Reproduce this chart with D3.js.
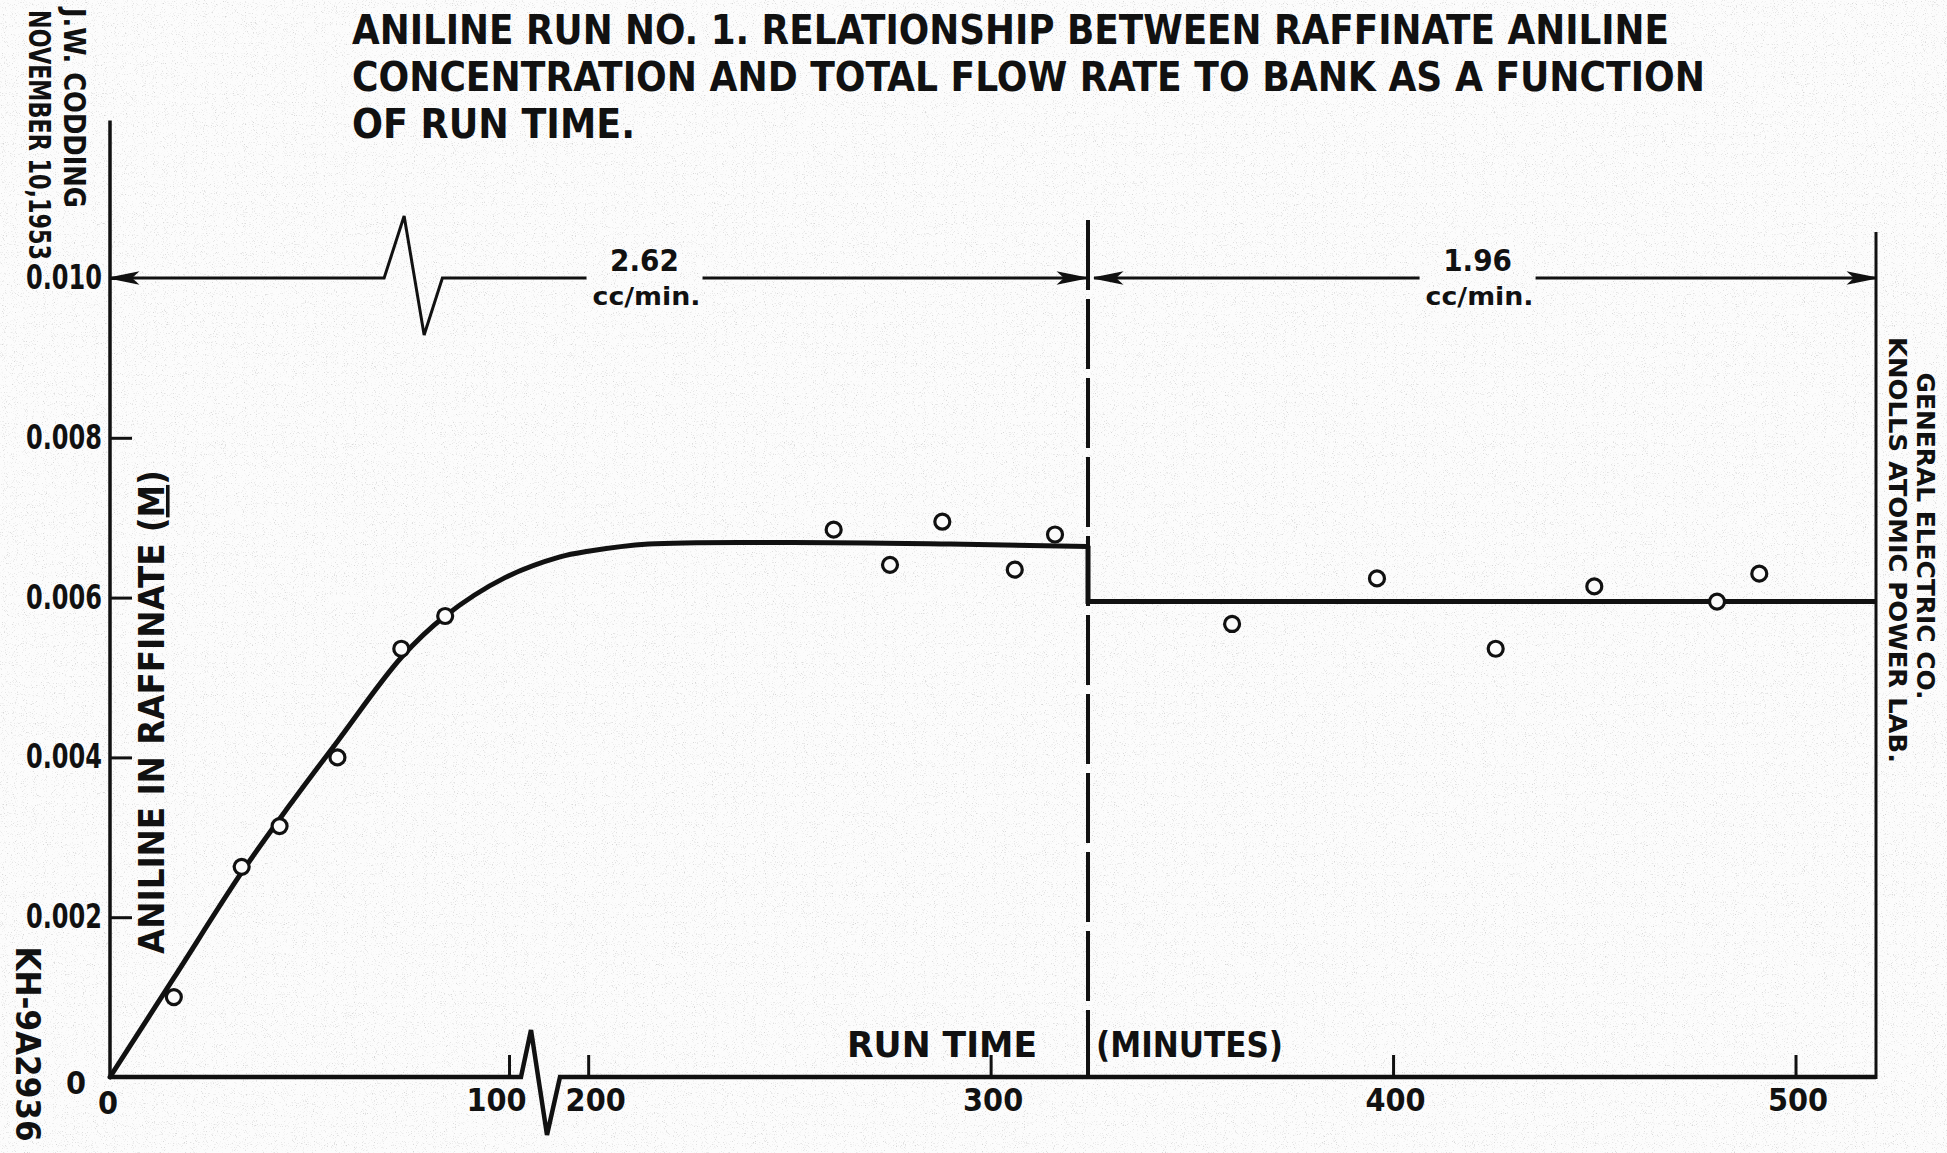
<!DOCTYPE html>
<html lang="en">
<meta charset="utf-8">
<title>Aniline Run No. 1</title>
<head>
  <style>
    body { margin: 0; background: #f4f4f4; }
    text { font-family: "DejaVu Sans Condensed", "DejaVu Sans", sans-serif; fill: #111; }
  </style>
</head>
<body>
  <script src="https://d3js.org/d3.v7.min.js"></script>
  <div id="chart"></div>
  <script>

    // measured points (run time in minutes, aniline molarity)
    var pointTimes = [16, 33, 42.5, 57, 73, 84, 261, 275, 288, 306, 316, 360, 396, 425.5, 450, 480.5, 491];
    var pointValues = [0.00100, 0.00263, 0.00314, 0.00400, 0.00536, 0.00577, 0.00685, 0.00641, 0.00695,
      0.00635, 0.00679, 0.00567, 0.00624, 0.00536, 0.00614, 0.00595, 0.00630];

    // hand drawn curve, first flow rate
    var curveTimes = [0, 16, 33, 45, 57, 73, 84, 99, 193, 200, 215, 250, 290, 324.2];
    var curveValues = [0, 0.00124, 0.00256, 0.00340, 0.00420, 0.00525, 0.00577, 0.00625,
      0.00651, 0.00658, 0.00667, 0.00669, 0.00667, 0.00664];

    // drop at the flow change and the second level
    var stepTimes = [324.2, 324.2, 520];
    var stepValues = [0.00664, 0.00595, 0.00595];

    var flowRates = ["2.62", "1.96"];
    var flowSpans = [[0, 324.2], [324.2, 520]];
    var flowLabelTimes = [214, 421];
    var changeTime = 324.2;

    var xTicks = [100, 200, 300, 400, 500];
    var yTicks = [0.002, 0.004, 0.006, 0.008, 0.010];
    var axisBreak = [103, 193];
    var arrowBreak = [68.7, 83.3];
    var yAxisTop = 0.01197;

    var titleLines = [
      "ANILINE RUN NO. 1.  RELATIONSHIP BETWEEN RAFFINATE ANILINE",
      "CONCENTRATION  AND  TOTAL  FLOW  RATE  TO  BANK  AS  A  FUNCTION",
      "OF  RUN  TIME."
    ];

    var W = 1947, H = 1153;

    var svg = d3.select("#chart").append("svg")
      .attr("width", W)
      .attr("height", H);

    // paper grain
    var filt = svg.append("defs").append("filter").attr("id", "grain")
      .attr("x", 0).attr("y", 0).attr("width", "100%").attr("height", "100%");
    filt.append("feTurbulence").attr("type", "fractalNoise").attr("baseFrequency", 0.9)
      .attr("numOctaves", 2).attr("seed", 7);
    filt.append("feColorMatrix").attr("type", "matrix")
      .attr("values", "0 0 0 0 0.4  0 0 0 0 0.4  0 0 0 0 0.4  4 0 0 0 -2.35");
    svg.append("rect").attr("width", W).attr("height", H).attr("fill", "#fcfcfc");
    svg.append("rect").attr("width", W).attr("height", H).attr("filter", "url(#grain)").attr("opacity", 0.45);

    // broken time axis: 103..193 min is squeezed out
    var x = d3.scaleLinear()
      .domain([0, axisBreak[0], axisBreak[1], 520])
      .range([110, 521, 560, 1876]);
    var y = d3.scaleLinear()
      .domain([0, 0.010])
      .range([1077, 278]);

    var ink = "#111";
    var y0 = y(0);

    // x axis base line with the break mark
    var bx0 = x(axisBreak[0]), bx1 = x(axisBreak[1]);
    svg.append("path")
      .attr("d", d3.line()([[x(0), y0], [bx0, y0], [bx0 + 10, y0 - 47], [bx0 + 26, y0 + 58], [bx1, y0], [x(520), y0]]))
      .attr("fill", "none").attr("stroke", ink).attr("stroke-width", 4.5).attr("stroke-linejoin", "miter");

    // y axis line and right frame line
    svg.append("line").attr("x1", x(0)).attr("x2", x(0)).attr("y1", y0 + 2).attr("y2", y(yAxisTop))
      .attr("stroke", ink).attr("stroke-width", 3.5);
    svg.append("line").attr("x1", x(520)).attr("x2", x(520)).attr("y1", y0 + 2).attr("y2", 232)
      .attr("stroke", ink).attr("stroke-width", 3);

    // x axis ticks and labels
    var gx = svg.append("g")
      .attr("transform", "translate(0," + y0 + ")")
      .call(d3.axisBottom(x).tickValues(xTicks).tickSizeInner(-22).tickSizeOuter(0).tickPadding(11)
        .tickFormat(d3.format("d")));
    gx.select(".domain").remove();
    gx.selectAll(".tick line").attr("stroke", ink).attr("stroke-width", 3);
    gx.selectAll(".tick text")
      .attr("font-size", 32).attr("font-weight", "bold").attr("fill", ink)
      .attr("dx", d => d === 100 ? -13 : d === 200 ? 7 : 2);

    // y axis ticks and labels
    var gy = svg.append("g")
      .attr("transform", "translate(" + x(0) + ",0)")
      .call(d3.axisLeft(y).tickValues(yTicks).tickSizeInner(-22).tickSizeOuter(0).tickPadding(8)
        .tickFormat(d3.format(".3f")));
    gy.select(".domain").remove();
    gy.selectAll(".tick line").attr("stroke", ink).attr("stroke-width", 3);
    gy.selectAll(".tick text")
      .attr("font-size", 33).attr("font-weight", "bold").attr("fill", ink)
      .attr("textLength", 76).attr("lengthAdjust", "spacingAndGlyphs");

    // the two zeros
    svg.append("text").attr("x", 76).attr("y", y0 + 5).attr("dy", "0.36em")
      .attr("text-anchor", "middle").attr("font-size", 32).attr("font-weight", "bold").text("0");
    svg.append("text").attr("x", x(0) - 2).attr("y", y0 + 25).attr("dy", "0.36em")
      .attr("text-anchor", "middle").attr("font-size", 32).attr("font-weight", "bold").text("0");

    // flow-rate arrows at the 0.010 level
    var ya = y(0.010);
    function arrowHead(tx, dir) {
      svg.append("path")
        .attr("d", d3.line()([[tx, ya], [tx - dir * 27, ya - 5.5], [tx - dir * 21, ya], [tx - dir * 27, ya + 5.5]]) + "Z")
        .attr("fill", ink).attr("stroke", ink).attr("stroke-width", 1.5);
    }
    flowSpans.forEach(function (span, i) {
      var xs = x(span[0]) + (i === 0 ? 0 : 6), xe = x(span[1]) - (i === 0 ? 2 : 0);
      var lx = x(flowLabelTimes[i]);
      var pts = [[xs, ya]];
      if (i === 0) {
        var a0 = x(arrowBreak[0]), a1 = x(arrowBreak[1]);
        pts.push([a0, ya], [a0 + 20, ya - 62], [a0 + 40, ya + 57], [a1, ya]);
      }
      pts.push([lx - 58, ya]);
      svg.append("path").attr("d", d3.line()(pts)).attr("fill", "none")
        .attr("stroke", ink).attr("stroke-width", 3);
      svg.append("line").attr("x1", lx + 58).attr("x2", xe).attr("y1", ya).attr("y2", ya)
        .attr("stroke", ink).attr("stroke-width", 3);
      arrowHead(xs, -1);
      arrowHead(xe, 1);
      svg.append("text").attr("x", lx).attr("y", ya - 7).attr("text-anchor", "middle")
        .attr("font-size", 31).attr("font-weight", "bold").text(flowRates[i]);
      svg.append("text").attr("x", lx + 2).attr("y", ya + 27).attr("text-anchor", "middle")
        .attr("font-size", 24).attr("font-weight", "bold")
        .attr("textLength", 108).attr("lengthAdjust", "spacingAndGlyphs").text("cc/min.");
    });

    // dashed line where the flow rate changed
    svg.append("line").attr("x1", x(changeTime)).attr("x2", x(changeTime))
      .attr("y1", 220).attr("y2", y0)
      .attr("stroke", ink).attr("stroke-width", 4).attr("stroke-dasharray", "70 9");

    // fitted curve and step
    svg.append("path")
      .datum(d3.zip(curveTimes, curveValues))
      .attr("fill", "none").attr("stroke", ink).attr("stroke-width", 5).attr("stroke-linecap", "round")
      .attr("d", d3.line().x(d => x(d[0])).y(d => y(d[1])).curve(d3.curveCatmullRom.alpha(0.5)));
    svg.append("path")
      .datum(d3.zip(stepTimes, stepValues))
      .attr("fill", "none").attr("stroke", ink).attr("stroke-width", 5)
      .attr("d", d3.line().x(d => x(d[0])).y(d => y(d[1])));

    // data points
    svg.append("g").selectAll("circle")
      .data(d3.zip(pointTimes, pointValues))
      .join("circle")
      .attr("cx", d => x(d[0]))
      .attr("cy", d => y(d[1]))
      .attr("r", 7.5)
      .attr("fill", "#fbfbfb").attr("stroke", ink).attr("stroke-width", 3.2);

    // title
    var titleLen = [1317, 1353, 283];
    svg.append("g").selectAll("text")
      .data(titleLines)
      .join("text")
      .attr("x", 352)
      .attr("y", (d, i) => 43.5 + i * 47.3)
      .attr("font-size", 41)
      .attr("font-weight", "bold")
      .attr("textLength", (d, i) => titleLen[i])
      .attr("lengthAdjust", "spacingAndGlyphs")
      .text(d => d);

    // axis titles
    svg.append("text").attr("x", 847).attr("y", 1057).attr("font-size", 35).attr("font-weight", "bold")
      .attr("textLength", 190).attr("lengthAdjust", "spacingAndGlyphs").text("RUN  TIME");
    svg.append("text").attr("x", 1096).attr("y", 1057).attr("font-size", 35).attr("font-weight", "bold")
      .attr("textLength", 187).attr("lengthAdjust", "spacingAndGlyphs").text("(MINUTES)");

    var ylab = svg.append("text")
      .attr("transform", "translate(151,712) rotate(-90)")
      .attr("text-anchor", "middle").attr("dy", "0.36em").attr("font-size", 36).attr("font-weight", "bold")
      .attr("textLength", 484).attr("lengthAdjust", "spacingAndGlyphs");
    ylab.append("tspan").text("ANILINE  IN  RAFFINATE  (");
    ylab.append("tspan").attr("text-decoration", "underline").text("M");
    ylab.append("tspan").text(")");

    // side notes, reading downwards
    function sideNote(str, cx, cy, size, len) {
      svg.append("text")
        .attr("transform", "translate(" + cx + "," + cy + ") rotate(90)")
        .attr("text-anchor", "middle").attr("dy", "0.36em")
        .attr("font-size", size).attr("font-weight", "bold")
        .attr("textLength", len).attr("lengthAdjust", "spacingAndGlyphs")
        .text(str);
    }
    sideNote("J.W. CODDING", 75, 108, 30, 200);
    sideNote("NOVEMBER 10,1953", 40, 135, 30, 250);
    sideNote("KH-9A2936", 27.5, 1044, 33, 195);
    sideNote("GENERAL ELECTRIC CO.", 1926, 536, 25, 327);
    sideNote("KNOLLS ATOMIC POWER LAB.", 1898, 550, 25, 426);

  </script>
</body>
</html>
